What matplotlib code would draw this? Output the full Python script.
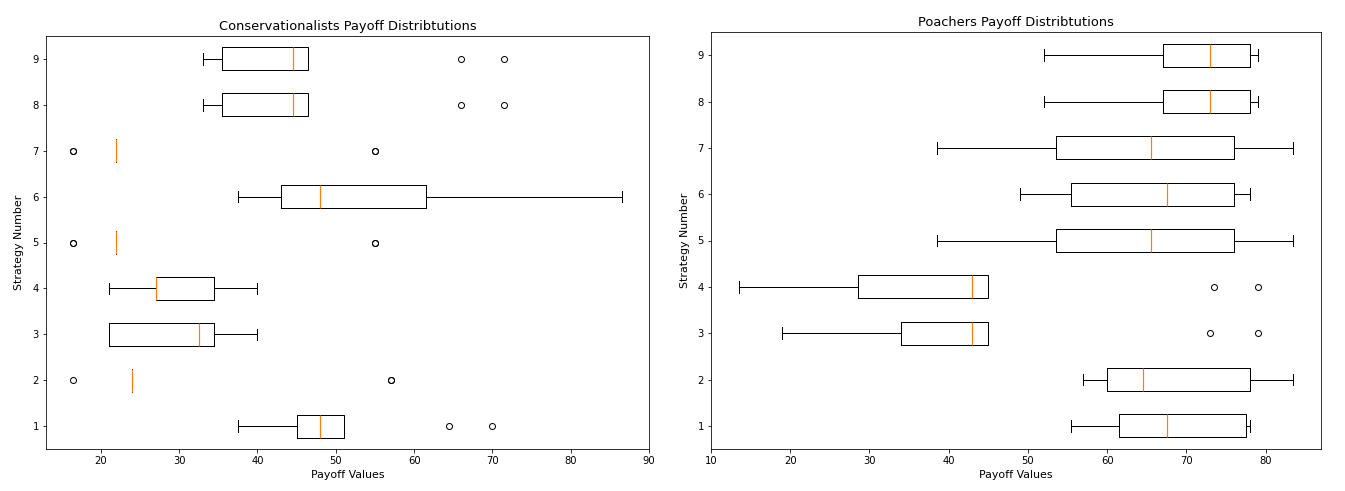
import matplotlib
matplotlib.use('Agg')
import matplotlib.pyplot as plt

# box statistics, strategies 1..9
strategies = [1, 2, 3, 4, 5, 6, 7, 8, 9]

#conservationalists
cons_whislo = [37.5, 24, 21, 21, 22, 37.5, 22, 33, 33]
cons_q1 = [45, 24, 21, 27, 22, 43, 22, 35.5, 35.5]
cons_med = [48, 24, 32.5, 27, 22, 48, 22, 44.5, 44.5]
cons_q3 = [51, 24, 34.5, 34.5, 22, 61.5, 22, 46.5, 46.5]
cons_whishi = [51, 24, 40, 40, 22, 86.5, 22, 46.5, 46.5]
cons_fliers = [[64.5, 70], [16.5, 57, 57], [], [], [16.5, 16.5, 55, 55], [],
               [16.5, 16.5, 55, 55], [66, 71.5], [66, 71.5]]

#poachers
poach_whislo = [55.5, 57, 19, 13.5, 38.5, 49, 38.5, 52, 52]
poach_q1 = [61.5, 60, 34, 28.5, 53.5, 55.5, 53.5, 67, 67]
poach_med = [67.5, 64.5, 43, 43, 65.5, 67.5, 65.5, 73, 73]
poach_q3 = [77.5, 78, 45, 45, 76, 76, 76, 78, 78]
poach_whishi = [78, 83.5, 45, 45, 83.5, 78, 83.5, 79, 79]
poach_fliers = [[], [], [73, 79], [73.5, 79], [], [], [], [], []]


def make_stats(whislo, q1, med, q3, whishi, fliers):
    stats = []
    for i in range(len(med)):
        stats.append({'whislo': whislo[i], 'q1': q1[i], 'med': med[i], 'q3': q3[i],
                      'whishi': whishi[i], 'fliers': fliers[i], 'label': str(strategies[i])})
    return stats


fig = plt.figure(figsize=(1345/72, 491/72), dpi=72)
ax1 = fig.add_axes([46/1345, 42/491, 603/1345, 413/491])
ax2 = fig.add_axes([711/1345, 42/491, 610/1345, 417/491])
med_style = {'color': '#ff7f0e', 'linewidth': 1.2}

ax1.bxp(make_stats(cons_whislo, cons_q1, cons_med, cons_q3, cons_whishi, cons_fliers),
        positions=strategies, orientation='horizontal', medianprops=med_style)
ax1.set_title('Conservationalists Payoff Distribtutions', fontsize=13)
ax1.set_xlabel('Payoff Values', fontsize=11)
ax1.set_ylabel('Strategy Number', fontsize=11, labelpad=9)

ax2.bxp(make_stats(poach_whislo, poach_q1, poach_med, poach_q3, poach_whishi, poach_fliers),
        positions=strategies, orientation='horizontal', medianprops=med_style)
ax2.set_title('Poachers Payoff Distribtutions', fontsize=13)
ax2.set_xlabel('Payoff Values', fontsize=11)
ax2.set_ylabel('Strategy Number', fontsize=11, labelpad=8)

plt.savefig('out.png', dpi=72)
